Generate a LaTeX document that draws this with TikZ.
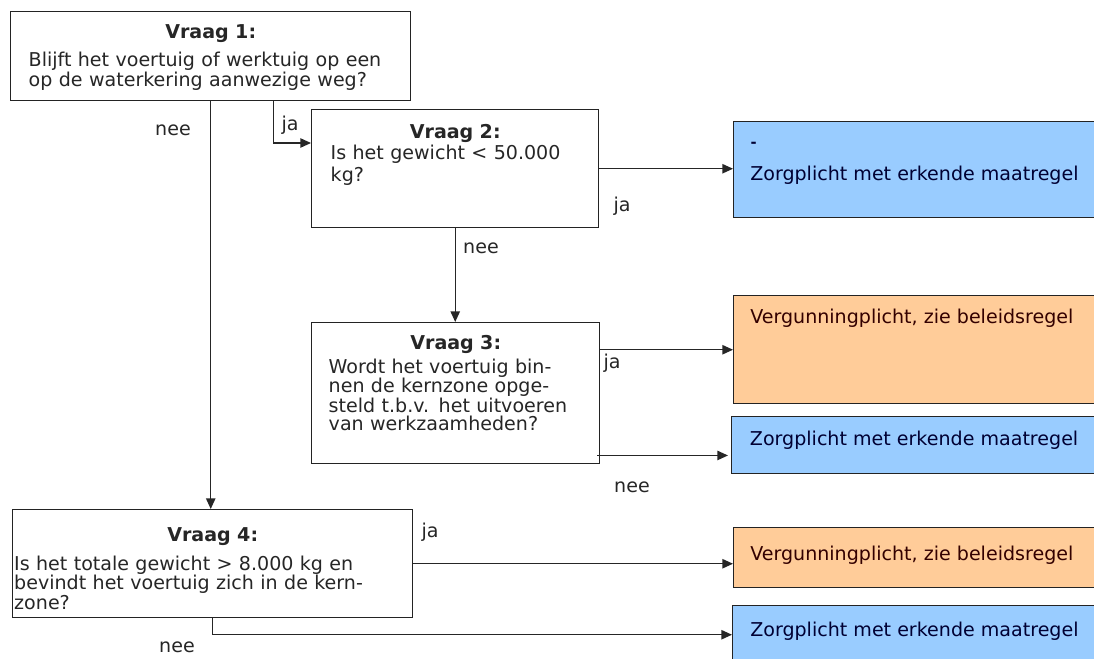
\documentclass[tikz,border=0pt]{standalone}
\usepackage{fontspec}
\setmainfont{DejaVu Sans}
\usetikzlibrary{arrows.meta,positioning}
\definecolor{zorgblue}{RGB}{153,204,255}
\definecolor{vergorange}{RGB}{255,204,153}
\definecolor{edgegray}{RGB}{35,35,35}

\begin{document}
\begin{tikzpicture}[
    x=0.75pt, y=-0.75pt,
    every node/.style={font=\fontsize{14.3}{15}\selectfont, text=black!85},
    question/.style={draw=edgegray, line width=1.1pt, fill=white, anchor=north west, inner sep=0pt},
    qtext/.style={align=left, inner sep=0pt},
    result/.style={draw=edgegray, line width=1.1pt, anchor=north west, inner sep=0pt, minimum width=282.75pt},
    rtext/.style={inner sep=0pt, text=black!80!blue},
    answer/.style={inner sep=0pt},
    flow/.style={-{Triangle[length=8pt,width=7pt]}, line width=1.1pt, black!85}
]
\useasboundingbox (0,0) rectangle (1094,659);
\fill[white] (0,0) rectangle (1094,659);
\clip (0,0) rectangle (1094,659);

\node[question, minimum width=300pt, minimum height=66.75pt] (q1) at (10,11) {};
\node[question, minimum width=215.25pt, minimum height=88.5pt] (q2) at (311,109) {};
\node[question, minimum width=216pt, minimum height=105.75pt] (q3) at (311,322) {};
\node[question, minimum width=300pt, minimum height=81pt] (q4) at (12,509) {};

\node[qtext, text width=273pt, below=9.75pt of q1.north] (q1text) {\makebox[\linewidth]{\textbf{Vraag 1:}}\\[6pt]
    Blijft het voertuig of werktuig op een\\op de waterkering aanwezige weg?};
\node[qtext, text width=186.75pt, below=11.25pt of q2.north, font=\fontsize{14.3}{16}\selectfont] (q2text) {\makebox[\linewidth]{\textbf{Vraag 2:}}\\
    Is het gewicht < 50.000\\kg?};
\node[qtext, text width=190.5pt, below=9.75pt of q3.north, font=\fontsize{14.3}{13.7}\selectfont] (q3text) {\makebox[\linewidth]{\textbf{Vraag 3:}}\\[2.8pt]
    Wordt het voertuig bin-\\nen de kernzone opge-\\steld t.b.v. het uitvoeren\\van werkzaamheden?};
\node[qtext, text width=297.75pt, below=13.5pt of q4.north, font=\fontsize{14.3}{13.5}\selectfont] (q4text) {\makebox[\linewidth]{\textbf{Vraag 4:}}\\[6.75pt]
    Is het totale gewicht > 8.000 kg en\\bevindt het voertuig zich in de kern-\\zone?};

\node[result, fill=zorgblue, minimum height=72pt] (r1) at (733,121) {};
\node[result, fill=vergorange, minimum height=81pt] (r2) at (733,295) {};
\node[result, fill=zorgblue, minimum height=42.75pt] (r3) at (731,416) {};
\node[result, fill=vergorange, minimum height=45pt] (r4) at (733,527) {};
\node[result, fill=zorgblue, minimum height=43.5pt] (r5) at (732,605) {};

\node[rtext, font=\fontsize{11}{11}\selectfont\bfseries, below right=15.5pt and 13pt of r1.north west] (r1mark) {-};
\node[rtext, below right=33.5pt and 12.75pt of r1.north west] (r1text) {Zorgplicht met erkende maatregel};
\node[rtext, text=black!80!red, below right=10pt and 12.75pt of r2.north west] (r2text) {Vergunningplicht, zie beleidsregel};
\node[rtext, below right=11pt and 14pt of r3.north west] (r3text) {Zorgplicht met erkende maatregel};
\node[rtext, text=black!80!red, below right=14pt and 12.75pt of r4.north west] (r4text) {Vergunningplicht, zie beleidsregel};
\node[rtext, below right=12.5pt and 13.5pt of r5.north west] (r5text) {Zorgplicht met erkende maatregel};

\draw[flow] ([xshift=47.25pt]q1.south) |- ([yshift=-25.5pt]q2.north west);
\draw[flow] (q1.south) -- (q1.south |- q4.north);
\draw[flow] (q2.east) -- (q2.east -| r1.west);
\draw[flow] (q2.south) -- (q2.south |- q3.north);
\draw[flow] (r2.west -| q3.east) -- (r2.west);
\draw[flow] ([xshift=-2.25pt, yshift=6.75pt]q3.south east) -- ([xshift=-2.25pt, yshift=6.75pt]q3.south east -| r3.west);
\draw[flow] (q4.east) -- (q4.east -| r4.west);
\draw[flow] (q4.south) |- (r5.west);

\node[answer] (ja1) at (290,125) {ja};
\node[answer] (nee1) at (173,130) {nee};
\node[answer] (ja2) at (622,206) {ja};
\node[answer] (nee2) at (481,248) {nee};
\node[answer] (ja3) at (612,363) {ja};
\node[answer] (nee3) at (632,487) {nee};
\node[answer] (ja4) at (430,532) {ja};
\node[answer] (nee4) at (177,647) {nee};
\end{tikzpicture}
\end{document}
